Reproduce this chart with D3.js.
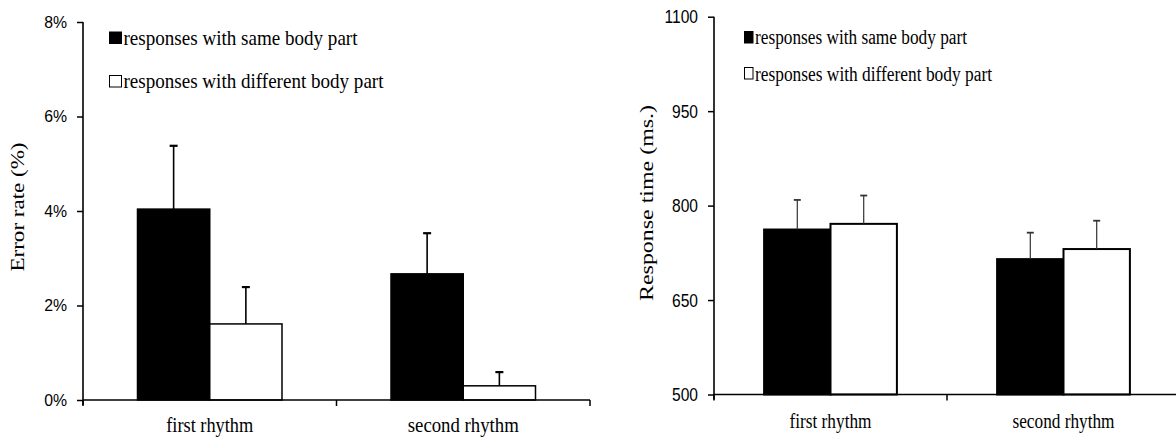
<!DOCTYPE html>
<html>
<head>
<meta charset="utf-8">
<script src="https://cdn.jsdelivr.net/npm/d3@7"></script>
<style>
  html, body { margin: 0; padding: 0; background: #fff; }
  svg { display: block; }
</style>
</head>
<body>
<svg id="chart" width="1176" height="442"></svg>
<script>
// ---------- data ----------
const categories = ["first rhythm", "second rhythm"];
const seriesNames = ["responses with same body part", "responses with different body part"];
const seriesFills = ["#000000", "#ffffff"];

// Error rate (%), left panel
const errorSame = [4.04, 2.67];
const errorSameSE = [1.34, 0.86];
const errorDiff = [1.61, 0.30];
const errorDiffSE = [0.78, 0.29];
const errorTicks = [0, 2, 4, 6, 8];

// Response time (ms), right panel
const rtSame = [762, 715];
const rtSameSE = [47, 42];
const rtDiff = [771, 731];
const rtDiffSE = [45, 45];
const rtTicks = [500, 650, 800, 950, 1100];

// ---------- helpers ----------
const svg = d3.select("#chart");
const SERIF = "'Liberation Serif', 'Times New Roman', Times, serif";
const SANS = "'Liberation Sans', Arial, sans-serif";

function condense(sel, factor) {
  sel.each(function () {
    const w = this.getComputedTextLength();
    d3.select(this).attr("textLength", w * factor).attr("lengthAdjust", "spacingAndGlyphs");
  });
}
function fitWidth(sel, width) {
  sel.attr("textLength", width).attr("lengthAdjust", "spacingAndGlyphs");
}

function panel(cfg) {
  const g = svg.append("g");
  const x0 = d3.scaleBand().domain(cfg.categories).range([cfg.x0, cfg.x1]).paddingInner(0).paddingOuter(0);
  const bw = x0.bandwidth();
  const gap = bw * cfg.gapRatio;
  const x1 = d3.scaleBand().domain(seriesNames).range([gap, bw - gap]).padding(0);
  const y = d3.scaleLinear().domain(cfg.domain).range([cfg.yBottom, cfg.yTop]);

  const rows = [];
  cfg.categories.forEach((c, i) => {
    cfg.values.forEach((vals, s) => {
      rows.push({ cat: c, series: seriesNames[s], s, v: vals[i], e: cfg.errors[s][i] });
    });
  });

  // bars
  g.selectAll("rect.bar").data(rows).join("rect")
    .attr("class", "bar")
    .attr("x", d => x0(d.cat) + x1(d.series))
    .attr("y", d => y(d.v))
    .attr("width", x1.bandwidth())
    .attr("height", d => y(cfg.domain[0]) - y(d.v))
    .attr("fill", d => seriesFills[d.s])
    .attr("stroke", "#000")
    .attr("stroke-width", cfg.barStroke);

  // error bars
  const eg = g.selectAll("g.err").data(rows).join("g").attr("class", "err");
  const cx = d => x0(d.cat) + x1(d.series) + x1.bandwidth() / 2;
  eg.append("line")
    .attr("x1", cx).attr("x2", cx)
    .attr("y1", d => y(d.v))
    .attr("y2", d => y(d.v + d.e))
    .attr("stroke", cfg.errColor).attr("stroke-width", cfg.errWidth);
  eg.append("line")
    .attr("x1", d => cx(d) - cfg.cap / 2)
    .attr("x2", d => cx(d) + cfg.cap / 2)
    .attr("y1", d => y(d.v + d.e))
    .attr("y2", d => y(d.v + d.e))
    .attr("stroke", cfg.errColor).attr("stroke-width", cfg.errWidth + 0.6);

  // y axis
  const yAxis = d3.axisLeft(y).tickValues(cfg.ticks).tickSize(6).tickPadding(cfg.tickPad)
    .tickFormat(cfg.tickFormat);
  const ya = g.append("g").attr("transform", `translate(${cfg.x0},0)`).call(yAxis);
  ya.select(".domain").remove();
  ya.append("line").attr("x1", 0).attr("x2", 0).attr("y1", cfg.yTop).attr("y2", cfg.yBottom + 5)
    .attr("stroke", "#000").attr("stroke-width", 1.6);
  ya.selectAll(".tick line").attr("stroke", "#000").attr("stroke-width", 1.5);
  ya.selectAll(".tick text")
    .attr("fill", "#000")
    .style("font-family", SANS)
    .style("font-size", cfg.tickFont + "px");
  condense(ya.selectAll(".tick text"), cfg.tickCondense);

  // x axis (boundary ticks between categories)
  const xa = g.append("g");
  xa.append("line").attr("x1", cfg.x0).attr("x2", cfg.x1)
    .attr("y1", cfg.yBottom).attr("y2", cfg.yBottom)
    .attr("stroke", "#000").attr("stroke-width", 1.6);
  const bounds = cfg.categories.map(c => x0(c)).concat([x0(cfg.categories[cfg.categories.length - 1]) + bw]);
  xa.selectAll("line.bt").data(bounds).join("line").attr("class", "bt")
    .attr("x1", d => d).attr("x2", d => d)
    .attr("y1", cfg.yBottom).attr("y2", cfg.yBottom + 6)
    .attr("stroke", "#000").attr("stroke-width", 1.5);

  // category labels
  const cl = xa.selectAll("text.cat").data(cfg.categories).join("text").attr("class", "cat")
    .attr("x", d => x0(d) + bw / 2)
    .attr("y", cfg.catBaseline)
    .attr("text-anchor", "middle")
    .style("font-family", SERIF)
    .style("font-size", cfg.catFont + "px")
    .attr("fill", "#000")
    .text(d => d);
  cl.each(function (d, i) { fitWidth(d3.select(this), cfg.catWidths[i]); });

  // axis title
  const t = g.append("text")
    .attr("transform", `translate(${cfg.titleX},${cfg.titleY}) rotate(-90)`)
    .attr("text-anchor", "middle")
    .style("font-family", SERIF)
    .style("font-size", cfg.titleFont + "px")
    .attr("fill", "#000")
    .text(cfg.title);
  fitWidth(t, cfg.titleLen);

  // legend
  const lg = g.append("g");
  seriesNames.forEach((name, i) => {
    lg.append("rect")
      .attr("x", cfg.legX).attr("y", cfg.legBoxY[i])
      .attr("width", cfg.legBoxW).attr("height", cfg.legBoxH)
      .attr("fill", seriesFills[i]).attr("stroke", "#000").attr("stroke-width", 1);
    const lt = lg.append("text")
      .attr("x", cfg.legX + cfg.legBoxW + 2)
      .attr("y", cfg.legBase[i])
      .style("font-family", SERIF)
      .style("font-size", cfg.legFont + "px")
      .attr("fill", "#000")
      .text(name);
    fitWidth(lt, cfg.legWidths[i]);
  });
}

panel({
  categories,
  values: [errorSame, errorDiff],
  errors: [errorSameSE, errorDiffSE],
  x0: 83, x1: 590, gapRatio: 0.215,
  domain: [0, 8], yBottom: 400, yTop: 22,
  ticks: errorTicks, tickFormat: d => d + "%",
  tickFont: 17, tickCondense: 0.93, tickPad: 10,
  barStroke: 1.5, errColor: "#000", errWidth: 1.6, cap: 8,
  catBaseline: 432, catFont: 20, catWidths: [87, 111],
  title: "Error rate (%)", titleX: 24, titleY: 207, titleFont: 18, titleLen: 129,
  legX: 109.5, legBoxW: 12, legBoxH: 11.5, legBoxY: [32, 75.5],
  legBase: [44.5, 87.5], legFont: 22, legWidths: [234, 260]
});

panel({
  categories,
  values: [rtSame, rtDiff],
  errors: [rtSameSE, rtDiffSE],
  x0: 714, x1: 1180, gapRatio: 0.215,
  domain: [500, 1100], yBottom: 394.5, yTop: 16.7,
  ticks: rtTicks, tickFormat: d => String(d),
  tickFont: 19, tickCondense: 0.82, tickPad: 10,
  barStroke: 2, errColor: "#333", errWidth: 1.2, cap: 7,
  catBaseline: 428, catFont: 20, catWidths: [82, 102],
  title: "Response time (ms.)", titleX: 653, titleY: 203, titleFont: 18, titleLen: 196,
  legX: 744.5, legBoxW: 8.5, legBoxH: 11.5, legBoxY: [31.5, 67.5],
  legBase: [43.5, 80.5], legFont: 20, legWidths: [212, 237]
});
</script>
</body>
</html>
